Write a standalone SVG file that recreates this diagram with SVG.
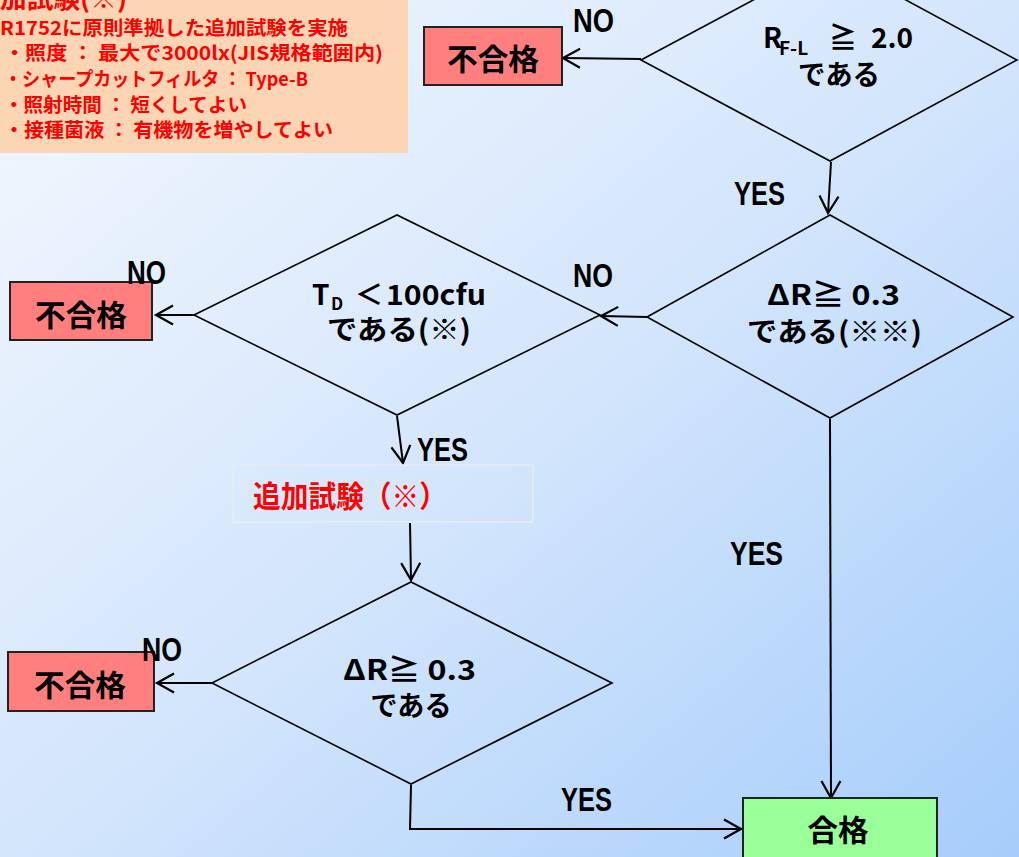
<svg xmlns="http://www.w3.org/2000/svg" width="1019" height="857" viewBox="0 0 1019 857">
<defs>
<linearGradient id="bg" x1="0" y1="0" x2="1" y2="1">
<stop offset="0" stop-color="#F4F8FE"/>
<stop offset="0.5" stop-color="#D4E6FC"/>
<stop offset="1" stop-color="#A6CDFB"/>
</linearGradient>
<marker id="arr" markerUnits="userSpaceOnUse" markerWidth="22" markerHeight="22" viewBox="0 0 22 22" refX="19" refY="11" orient="auto">
<path d="M2,1.5 L19,11 L2,20.5" fill="none" stroke="#000" stroke-width="2.2"/>
</marker>
<style>
.j{font-family:'Noto Sans CJK JP','Noto Sans',sans-serif;font-weight:700;}
.lab{font-family:'Liberation Sans','Noto Sans CJK JP',sans-serif;font-weight:700;font-size:34px;fill:#000;}
.nt{font-size:28px;fill:#000;}
.bt{font-size:30px;fill:#000;}
.pl{font-size:19px;fill:#FF0000;}
.dia{fill:none;stroke:#000;stroke-width:1.6;}
.fail{fill:#FF7F7F;stroke:#222;stroke-width:2;}
.pass{fill:#99FF99;stroke:#222;stroke-width:2;}
.con{fill:none;stroke:#000;stroke-width:2;}
</style>
</defs>
<rect x="0" y="0" width="1019" height="857" fill="url(#bg)"/>

<g id="note">
<rect x="-2" y="-2" width="410" height="155" fill="#FCD5B5"/>
<text class="j pl" x="0" y="8" style="font-size:25px" textLength="127" lengthAdjust="spacingAndGlyphs">加試験(※)</text>
<text class="j pl" x="0" y="35" textLength="348" lengthAdjust="spacingAndGlyphs">R1752に原則準拠した追加試験を実施</text>
<text class="j pl" x="4" y="60" textLength="379" lengthAdjust="spacingAndGlyphs">・照度 ： 最大で3000lx(JIS規格範囲内)</text>
<text class="j pl" x="4" y="86" textLength="304" lengthAdjust="spacingAndGlyphs">・シャープカットフィルタ ： Type-B</text>
<text class="j pl" x="4" y="112" textLength="243" lengthAdjust="spacingAndGlyphs">・照射時間 ： 短くしてよい</text>
<text class="j pl" x="4" y="137" textLength="329" lengthAdjust="spacingAndGlyphs">・接種菌液 ： 有機物を増やしてよい</text>
</g>

<g id="connectors">
<line class="con" x1="641" y1="59" x2="563" y2="58" marker-end="url(#arr)"/>
<line class="con" x1="831" y1="162" x2="828" y2="213" marker-end="url(#arr)"/>
<line class="con" x1="647" y1="317" x2="601" y2="316" marker-end="url(#arr)"/>
<line class="con" x1="194" y1="315" x2="156" y2="315" marker-end="url(#arr)"/>
<line class="con" x1="397" y1="416" x2="403" y2="463" marker-end="url(#arr)"/>
<line class="con" x1="410" y1="523" x2="411" y2="580" marker-end="url(#arr)"/>
<line class="con" x1="212" y1="683" x2="157" y2="683" marker-end="url(#arr)"/>
<polyline class="con" points="411,785 410,829 741,829" marker-end="url(#arr)"/>
<line class="con" x1="830" y1="419" x2="831" y2="798" marker-end="url(#arr)"/>
</g>

<g id="d1">
<polygon class="dia" points="641,60 830,-41 1017,60 830,161"/>
<text class="j nt" y="48"><tspan x="763">R</tspan><tspan x="779" y="55" style="font-size:19px">F-L</tspan><tspan x="829" y="48">≧</tspan><tspan x="871">2.0</tspan></text>
<text class="j nt" x="839" y="85" text-anchor="middle" textLength="82" lengthAdjust="spacingAndGlyphs">である</text>
</g>

<g id="f1">
<rect class="fail" x="424" y="27" width="138" height="58"/>
<text class="j bt" x="493" y="70" text-anchor="middle" textLength="92" lengthAdjust="spacingAndGlyphs">不合格</text>
</g>

<g id="d2">
<polygon class="dia" points="647,317 830,215 1013,317 830,418"/>
<text class="j nt" x="767" y="305" textLength="133" lengthAdjust="spacingAndGlyphs">ΔR≧ 0.3</text>
<text class="j nt" x="747" y="342" textLength="175" lengthAdjust="spacingAndGlyphs">である(※※)</text>
</g>

<g id="d3">
<polygon class="dia" points="194,315 397,215 600,315 397,415"/>
<text class="j nt" y="305"><tspan x="312">T</tspan><tspan x="331" y="310" style="font-size:17px">D</tspan><tspan x="355" y="305">＜</tspan><tspan x="386" textLength="100" lengthAdjust="spacingAndGlyphs">100cfu</tspan></text>
<text class="j nt" x="327" y="340" textLength="144" lengthAdjust="spacingAndGlyphs">である(※)</text>
</g>

<g id="f2">
<rect class="fail" x="10" y="282" width="142" height="58"/>
<text class="j bt" x="81" y="326" text-anchor="middle" textLength="92" lengthAdjust="spacingAndGlyphs">不合格</text>
</g>

<g id="extra">
<rect x="233" y="465" width="300" height="57" fill="none" stroke="#E8ECEF" stroke-width="1.5"/>
<text class="j bt" x="253" y="507" style="fill:#FF0000" textLength="194" lengthAdjust="spacingAndGlyphs">追加試験（※）</text>
</g>

<g id="d4">
<polygon class="dia" points="212,683 411,582 612,683 411,784"/>
<text class="j nt" x="343" y="680" textLength="133" lengthAdjust="spacingAndGlyphs">ΔR≧ 0.3</text>
<text class="j nt" x="411" y="716" text-anchor="middle" textLength="81" lengthAdjust="spacingAndGlyphs">である</text>
</g>

<g id="f3">
<rect class="fail" x="8" y="652" width="146" height="59"/>
<text class="j bt" x="80" y="696" text-anchor="middle" textLength="92" lengthAdjust="spacingAndGlyphs">不合格</text>
</g>

<g id="pass">
<rect class="pass" x="743" y="798" width="194" height="62"/>
<text class="j bt" x="838" y="841" text-anchor="middle" textLength="61" lengthAdjust="spacingAndGlyphs">合格</text>
</g>

<g id="labels">
<text class="lab" x="573" y="32" textLength="41" lengthAdjust="spacingAndGlyphs">NO</text>
<text class="lab" x="734" y="205" textLength="51" lengthAdjust="spacingAndGlyphs">YES</text>
<text class="lab" x="573" y="287" textLength="40" lengthAdjust="spacingAndGlyphs">NO</text>
<text class="lab" x="127" y="284" textLength="39" lengthAdjust="spacingAndGlyphs">NO</text>
<text class="lab" x="417" y="461" textLength="51" lengthAdjust="spacingAndGlyphs">YES</text>
<text class="lab" x="142" y="661" textLength="40" lengthAdjust="spacingAndGlyphs">NO</text>
<text class="lab" x="730" y="565" textLength="53" lengthAdjust="spacingAndGlyphs">YES</text>
<text class="lab" x="561" y="811" textLength="51" lengthAdjust="spacingAndGlyphs">YES</text>
</g>
</svg>
